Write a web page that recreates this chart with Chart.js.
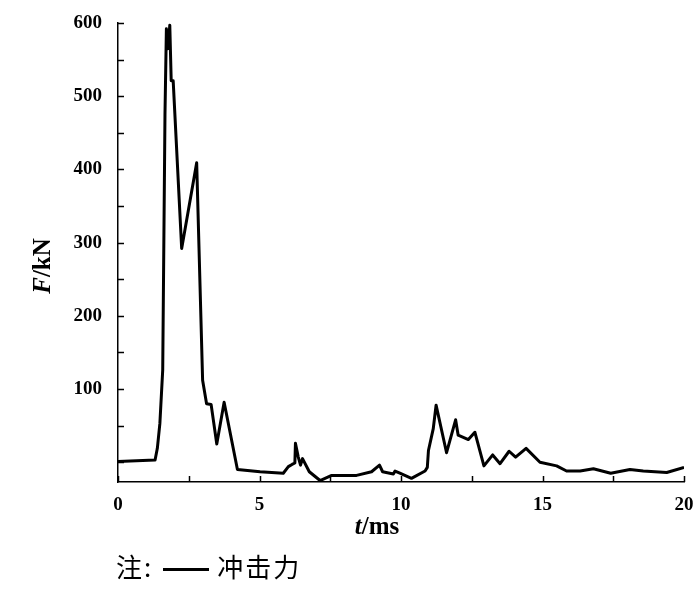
<!doctype html>
<html>
<head>
	<meta charset=utf-8>
	<title>冲击力</title>
	<script src="https://cdn.jsdelivr.net/npm/chart.js@4/dist/chart.umd.min.js"></script>
	<style>
		body { margin: 0; background: #fff; }
		#wrap { position: relative; width: 700px; height: 590px; }
		#note {
			position: absolute; left: 116px; top: 551px;
			font: 26px "Noto Sans CJK SC", sans-serif; line-height: 30px; color: #000; letter-spacing: 2px;
		}
		#note .ln { display: inline-block; width: 46px; height: 3px; background: #000; vertical-align: middle; margin: 0 8px 0 10px; }
	</style>
</head>
<body>
	<div id="wrap">
		<canvas id="chart" width="700" height="590"></canvas>
		<div id="note">注:<span class="ln"></span>冲击力</div>
	</div>

	<script>
		// t (ms) and impact force F (kN)
		var timeMs = [0, 1.31, 1.39, 1.48, 1.58, 1.66, 1.71, 1.77, 1.83, 1.88, 1.95, 2.25, 2.78, 2.99, 3.13, 3.29, 3.49, 3.75, 4.22, 5.02,
			5.84, 6.02, 6.15, 6.25, 6.27, 6.37, 6.45, 6.52, 6.76, 7.14, 7.55, 8.43, 8.96, 9.24, 9.35, 9.73, 9.79, 9.96, 10.37, 10.85,
			10.93, 10.97, 11.14, 11.24, 11.61, 11.93, 12.02, 12.38, 12.61, 12.93, 13.24, 13.5, 13.82, 14.05, 14.42, 14.91, 15.5, 15.85,
			16.33, 16.8, 17.41, 18.09, 18.56, 19.39, 20];
		var forceKN = [1, 3, 19, 53, 126, 475, 592, 565, 597, 521, 521, 292, 409, 112, 80, 79, 25, 82, -10, -13,
			-15, -6, -3, -1, 26, 7, -4, 5, -13, -25, -18, -18, -13, -4, -13, -16, -12, -15, -22, -12,
			-7, 16, 46, 78, 13, 58, 37, 31, 41, -5, 10, -2, 15, 7, 19, 0, -5, -12,
			-12, -9, -15, -10, -12, -14, -7];
		var xTicks = [0, 2.5, 5, 7.5, 10, 12.5, 15, 17.5, 20];
		var yTicks = [0, 50, 100, 150, 200, 250, 300, 350, 400, 450, 500, 550, 600];
		var seriesName = '冲击力';

		var points = timeMs.map(function(t, i) { return { x: t, y: forceKN[i] }; });

		var serif = '"Liberation Serif", "Times New Roman", serif';
		Chart.defaults.font.family = serif;
		Chart.defaults.color = '#000';

		// inward tick marks + axis titles with italic symbol
		var axisDeco = {
			id: 'axisDeco',
			afterDraw: function(chart) {
				var ctx = chart.ctx, xs = chart.scales.x, ys = chart.scales.y;
				var a = chart.chartArea;
				ctx.save();
				ctx.strokeStyle = '#000';
				ctx.lineWidth = 1.5;
				ctx.beginPath();
				xTicks.forEach(function(v) {
					var px = Math.round(xs.getPixelForValue(v)) + 0.5;
					ctx.moveTo(px, a.bottom); ctx.lineTo(px, a.bottom - 6);
				});
				yTicks.forEach(function(v) {
					var py = Math.round(ys.getPixelForValue(v)) + 0.5;
					ctx.moveTo(a.left, py); ctx.lineTo(a.left + 6, py);
				});
				ctx.stroke();

				ctx.fillStyle = '#000';
				ctx.textBaseline = 'middle';
				function mixed(parts, cx, cy) {
					var w = 0;
					parts.forEach(function(p) { ctx.font = p[1]; w += ctx.measureText(p[0]).width; });
					var x = cx - w / 2;
					ctx.textAlign = 'left';
					parts.forEach(function(p) { ctx.font = p[1]; ctx.fillText(p[0], x, cy); x += ctx.measureText(p[0]).width; });
				}
				var it = 'italic bold 25px ' + serif, up = 'bold 25px ' + serif;
				mixed([['t', it], ['/ms', up]], 377, 528);
				ctx.translate(44, 266);
				ctx.rotate(-Math.PI / 2);
				mixed([['F', it], ['/kN', up]], 0, 0);
				ctx.restore();
			}
		};

		var config = {
			type: 'line',
			data: {
				datasets: [{
					label: seriesName,
					data: points,
					borderColor: '#000',
					borderWidth: 3,
					borderJoinStyle: 'round',
					pointRadius: 0,
					tension: 0,
					fill: false
				}]
			},
			options: {
				responsive: false,
				animation: false,
				layout: { padding: { top: 23, right: 16, bottom: 0, left: 0 } },
				plugins: { legend: { display: false }, tooltip: { enabled: false } },
				scales: {
					x: {
						type: 'linear', min: 0, max: 20,
						afterBuildTicks: function(s) { s.ticks = xTicks.map(function(v) { return { value: v }; }); },
						afterFit: function(s) { s.height = 108; s.paddingLeft = 0; s.paddingRight = 0; },
						grid: { display: false, drawTicks: false },
						border: { display: true, color: '#000', width: 1.5 },
						ticks: {
							autoSkip: false, maxRotation: 0, padding: 12,
							font: { size: 19, weight: 'bold' },
							callback: function(v) { return v % 5 === 0 ? String(v) : ''; }
						}
					},
					y: {
						min: -27, max: 600,
						afterBuildTicks: function(s) { s.ticks = yTicks.map(function(v) { return { value: v }; }); },
						afterFit: function(s) { s.width = 118; s.paddingTop = 0; s.paddingBottom = 0; },
						grid: { display: false, drawTicks: false },
						border: { display: true, color: '#000', width: 1.5 },
						ticks: {
							autoSkip: false, padding: 16,
							font: { size: 19, weight: 'bold' },
							callback: function(v) { return (v >= 100 && v % 100 === 0) ? String(v) : ''; }
						}
					}
				}
			},
			plugins: [axisDeco]
		};

		window.myChart = new Chart(document.getElementById('chart').getContext('2d'), config);
	</script>
</body>
</html>
